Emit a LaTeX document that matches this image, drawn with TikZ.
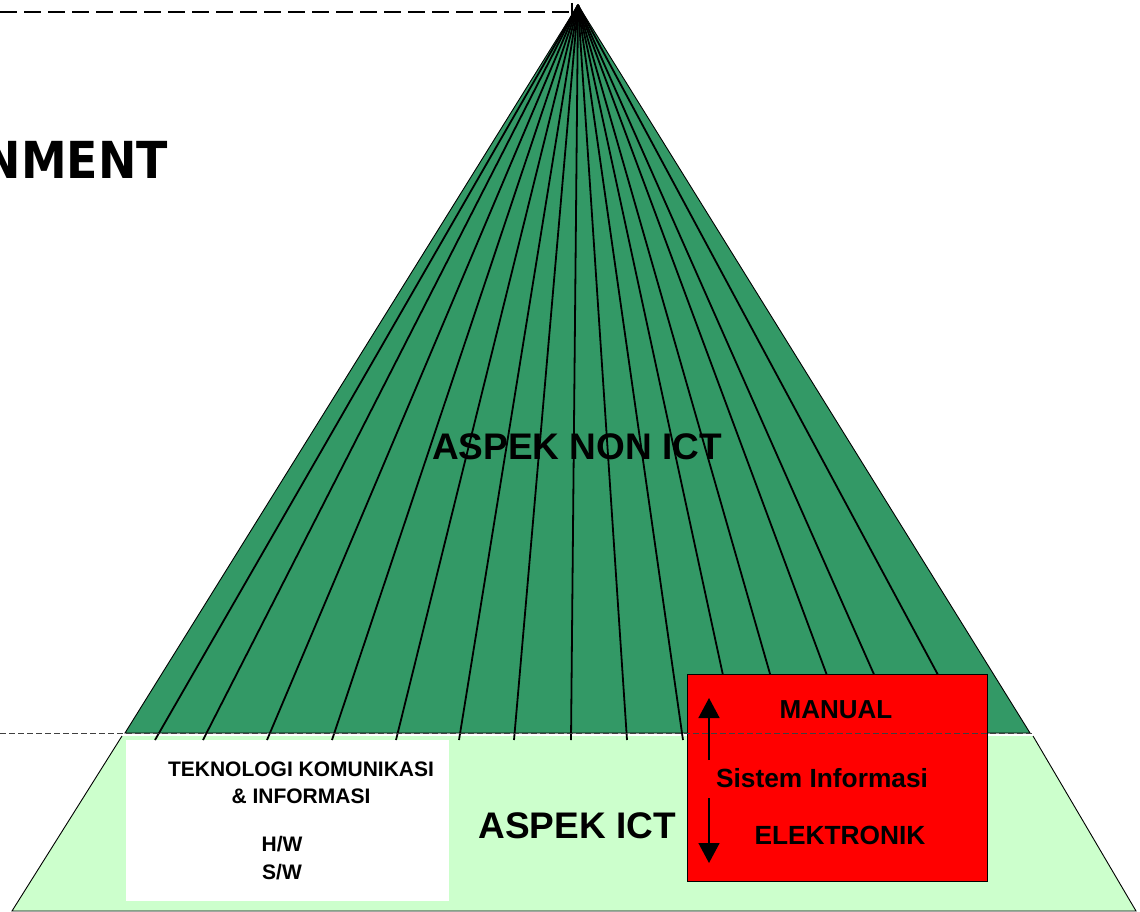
\documentclass[tikz,border=0pt]{standalone}
\usepackage{fontspec}
\setmainfont{Liberation Sans}
\newfontfamily\dvfont{DejaVu Sans}
\usetikzlibrary{arrows.meta}
\definecolor{darkgreen}{HTML}{339966}
\definecolor{lightgreen}{HTML}{CCFFCC}
\definecolor{boxred}{HTML}{FF0000}
\tikzset{
  fanline/.style={line width=1.8pt, draw=black},
  outline/.style={line width=0.9pt, draw=black},
  lbl/.style={anchor=base, inner sep=0pt, font=\bfseries},
  siarrow/.style={line width=1.5pt, -{Triangle[width=21pt,length=20pt]}},
}
\begin{document}
\begin{tikzpicture}[x=1pt,y=-1pt]
\useasboundingbox (0,0) rectangle (1140,912);
\begin{scope}
\clip (0,0) rectangle (1140,912);
% lower trapezoid
\fill[lightgreen] (122,736) -- (1033,736) -- (1136,911) -- (12,911) -- cycle;
\draw[outline] (122,736) -- (12,911) -- (1136,911) -- (1033,736);
% green triangle
\coordinate (apex) at (578,5);
\filldraw[outline, fill=darkgreen] (apex) -- (125,733) -- (1030,733) -- cycle;
% white box
\fill[white] (126,740) rectangle (449,901);
% fan lines
\foreach \x in {155,203,267,332,396,459,514,571,627,683,737,789,851,903,973}
  \draw[fanline] (apex) -- (\x,740);
% red box
\filldraw[fill=boxred, draw=black, line width=0.9pt] (687,674) rectangle (987,881);
% arrows
\coordinate (upS) at (709,760);
\coordinate (upE) at (709,698);
\coordinate (dnS) at (709,798);
\coordinate (dnE) at (709,863);
\draw[siarrow] (upS) -- (upE);
\draw[siarrow] (dnS) -- (dnE);
% texts
\node[lbl, font=\fontsize{37}{40}\selectfont\bfseries] (nonict) at (577,459) {ASPEK NON ICT};
\node[lbl, font=\fontsize{37}{40}\selectfont\bfseries] (ict) at (577,838) {ASPEK ICT};
\node[lbl, font=\fontsize{26}{30}\selectfont\bfseries] (manual) at (836,718) {MANUAL};
\node[lbl, font=\fontsize{26.3}{30}\selectfont\bfseries] (si) at (822,787) {Sistem Informasi};
\node[lbl, font=\fontsize{26.3}{30}\selectfont\bfseries] (elek) at (840,844) {ELEKTRONIK};
\node[lbl, font=\fontsize{21}{24}\selectfont\bfseries] (tk) at (301,776) {TEKNOLOGI KOMUNIKASI};
\node[lbl, font=\fontsize{21}{24}\selectfont\bfseries] (inf) at (301,803) {\& INFORMASI};
\node[lbl, font=\fontsize{21}{24}\selectfont\bfseries] (hw) at (282,851) {H/W};
\node[lbl, font=\fontsize{21}{24}\selectfont\bfseries] (sw) at (282,879) {S/W};
\node[anchor=base east, inner sep=0pt] (env) at (168,179) {\scalebox{0.9}[1]{\dvfont\bfseries\fontsize{51}{56}\selectfont NMENT}};
% dashed lines
\coordinate (d1a) at (0,12);
\coordinate (d1b) at (575,12);
\draw[line width=1.6pt, dash pattern=on 17pt off 7pt] (d1a) -- (d1b);
\coordinate (tk1) at (572,3);
\coordinate (tk2) at (572,18);
\draw[line width=1.2pt] (tk1) -- (tk2);
\coordinate (d2a) at (0,733);
\coordinate (d2b) at (1033,733);
\draw[line width=0.6pt, black!75, dash pattern=on 6pt off 3pt] (d2a) -- (d2b);
\end{scope}
\end{tikzpicture}
\end{document}
